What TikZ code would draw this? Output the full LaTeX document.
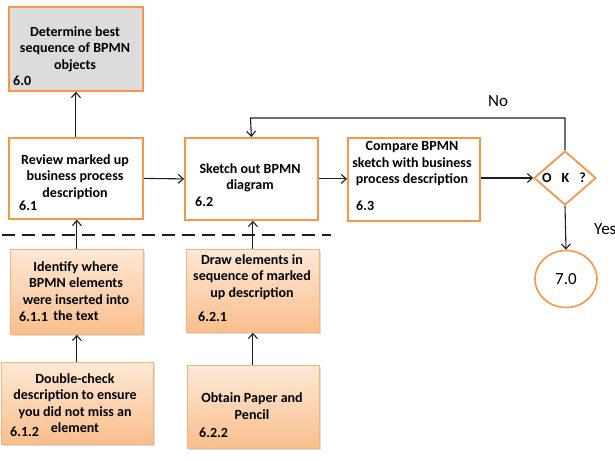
\documentclass[tikz,border=0pt]{standalone}
\usepackage{fontspec}
\setmainfont{Carlito}
\usetikzlibrary{shapes.geometric,arrows.meta,shadows}
\definecolor{orng}{RGB}{247,150,70}
\definecolor{lorng}{RGB}{245,180,125}
\definecolor{gfill}{RGB}{220,220,220}
\definecolor{gtop}{RGB}{253,232,214}
\definecolor{gbot}{RGB}{249,190,140}
\definecolor{ink}{RGB}{30,30,30}
\tikzset{
  mainbox/.style={draw=orng, line width=1.8pt, fill=white, anchor=north west, inner sep=0pt},
  graybox/.style={mainbox, fill=gfill},
  subbox/.style={draw=lorng, line width=0.8pt, top color=gtop, bottom color=gbot, anchor=north west, inner sep=0pt,
    drop shadow={opacity=0.25, shadow xshift=1.2pt, shadow yshift=-1.2pt}},
  txt/.style={font=\fontsize{14}{16.5}\selectfont\bfseries, align=center, inner sep=0pt, text=black},
  num/.style={font=\fontsize{14}{16}\selectfont\bfseries, anchor=west, inner sep=0pt, text=black},
  lbl/.style={font=\fontsize{17}{20}\selectfont, inner sep=0pt, text=black},
  arr/.style={draw=ink, line width=1.1pt, -{Straight Barb[length=5pt,width=9pt]}},
  ln/.style={draw=ink, line width=1.2pt},
}
\begin{document}
\begin{tikzpicture}[x=1pt,y=-1pt]
\useasboundingbox (0,0) rectangle (615,460);
% top row
\node[graybox, minimum width=134, minimum height=84] (b60) at (8,6) {};
\node[txt] (t60) at (75,49) {Determine best\\sequence of BPMN\\objects};
\node[num] (n60) at (13,81) {6.0};

\node[mainbox, minimum width=134, minimum height=81] (b61) at (8,137) {};
\node[txt] (t61) at (75,177) {Review marked up\\business process\\description};
\node[num] (n61) at (19,206) {6.1};

\node[mainbox, minimum width=133, minimum height=82] (b62) at (184,137) {};
\node[txt] (t62) at (250,178) {Sketch out BPMN\\diagram};
\node[num] (n62) at (195,202) {6.2};

\node[mainbox, minimum width=132, minimum height=83] (b63) at (347,137) {};
\node[txt] (t63) at (412,164) {Compare BPMN\\sketch with business\\process description};
\node[num] (n63) at (356,206) {6.3};

\node[diamond, draw=orng, line width=1.8pt, fill=white, minimum width=62, minimum height=54, inner sep=0pt] (dia) at (565,178) {};
\node[txt] (tdia) at (564,178) {O\hspace{10pt}K\hspace{10pt}?};

\node[ellipse, draw=orng, line width=1.6pt, fill=white, minimum width=62, minimum height=57, inner sep=0pt] (c70) at (566,279) {};
\node[lbl] (t70) at (566,279) {7.0};

\node[lbl, anchor=center] (no) at (498,101) {No};
\node[lbl, anchor=west] (yes) at (594,229) {Yes};

% dashed separator
\coordinate (dl) at (2,235);
\coordinate (dr) at (331,235);
\draw[ln, dash pattern=on 13pt off 7pt] (dl) -- (dr);

% bottom rows
\node[subbox, minimum width=133, minimum height=85] (b611) at (10,249) {};
\node[txt] (t611) at (76,291) {Identify where\\BPMN elements\\were inserted into\\the text};
\node[num] (n611) at (19,317) {6.1.1};

\node[subbox, minimum width=133, minimum height=83] (b621) at (186,249) {};
\node[txt] (t621) at (252,277) {Draw elements in\\sequence of marked\\up description};
\node[num] (n621) at (198,317) {6.2.1};

\node[subbox, minimum width=152, minimum height=82] (b612) at (1,362) {};
\node[txt] (t612) at (75,403) {Double-check\\description to ensure\\you did not miss an\\element};
\node[num] (n612) at (10,432) {6.1.2};

\node[subbox, minimum width=132, minimum height=83] (b622) at (187,365) {};
\node[txt] (t622) at (252,406) {Obtain Paper and\\Pencil};
\node[num] (n622) at (199,433) {6.2.2};

% connectors
\draw[arr] (b61.north) -- (b60.south);
\draw[arr] (b61.east) -- (b62.west);
\draw[arr] (b62.east) -- (b63.west |- b62.east);
\draw[arr] (b63.east |- dia.west) -- (dia.west);
\coordinate (lp) at (565,118);
\coordinate (lq) at (250.5,118);
\draw[arr] (dia.north) -- (lp) -- (lq) -- (b62.north);
\draw[arr] (dia.south) -- (c70.north);
\draw[arr] (b611.north) -- (b611.north |- b61.south);
\draw[arr] (b612.north -| b611.north) -- (b611.south);
\draw[arr] (b621.north) -- (b621.north |- b62.south);
\draw[arr] (b622.north -| b621.north) -- (b621.south);
\end{tikzpicture}
\end{document}
